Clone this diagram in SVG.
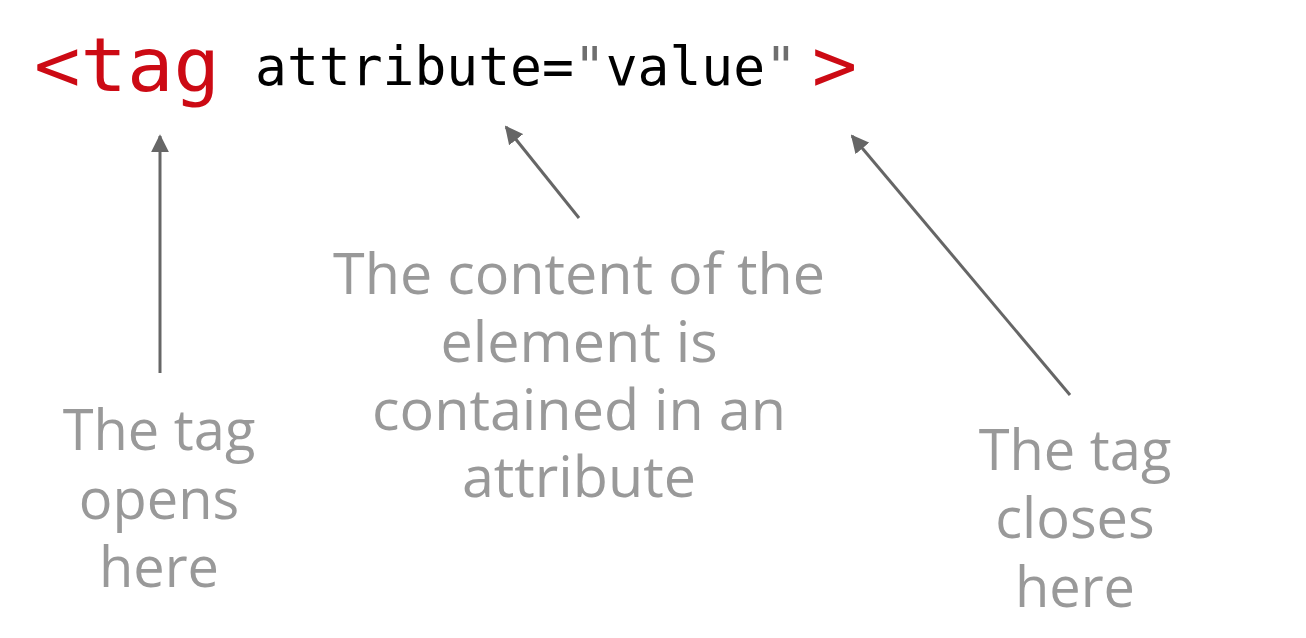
<svg xmlns="http://www.w3.org/2000/svg" width="1306" height="638" viewBox="0 0 1306 638">
<style>
.code{font-family:"DejaVu Sans Mono","Liberation Mono",monospace}
.red{fill:#cc0a14}
.blk{fill:#000}
.q{fill:#6e6e6e}
.lbl{font-family:"Open Sans","Noto Sans",sans-serif;font-size:56px;fill:#999999;text-anchor:middle}
.arr{stroke:#666666;stroke-width:3;fill:none;marker-end:url(#ah)}
</style>
<defs>
<marker id="ah" viewBox="0 0 10 10" refX="9" refY="5" markerWidth="6" markerHeight="6" markerUnits="strokeWidth" orient="auto">
<path d="M0,0 L10,5 L0,10 z" fill="#666666"/>
</marker>
</defs>
<rect width="1306" height="638" fill="#ffffff"/>
<g id="code">
<text class="code red" x="34" y="91" font-size="75" textLength="186" lengthAdjust="spacingAndGlyphs">&lt;tag</text>
<text class="code blk" x="255" y="85" font-size="53" textLength="542" lengthAdjust="spacingAndGlyphs">attribute=<tspan class="q">"</tspan>value<tspan class="q">"</tspan></text>
<text class="code red" x="812" y="91" font-size="75">&gt;</text>
</g>
<g id="connectors">
<line class="arr" x1="160" y1="373" x2="160" y2="136"/>
<line class="arr" x1="579" y1="218" x2="506" y2="127"/>
<line class="arr" x1="1070" y1="395" x2="852" y2="136"/>
</g>
<g id="label-open">
<text class="lbl"><tspan x="159" y="450">The tag</tspan><tspan x="159" y="519">opens</tspan><tspan x="159" y="587">here</tspan></text>
</g>
<g id="label-content">
<text class="lbl" style="font-size:57.5px"><tspan x="579" y="294">The content of the</tspan><tspan x="579" y="362">element is</tspan><tspan x="579" y="430">contained in an</tspan><tspan x="579" y="497">attribute</tspan></text>
</g>
<g id="label-close">
<text class="lbl"><tspan x="1075" y="470">The tag</tspan><tspan x="1075" y="538">closes</tspan><tspan x="1075" y="607">here</tspan></text>
</g>
</svg>
